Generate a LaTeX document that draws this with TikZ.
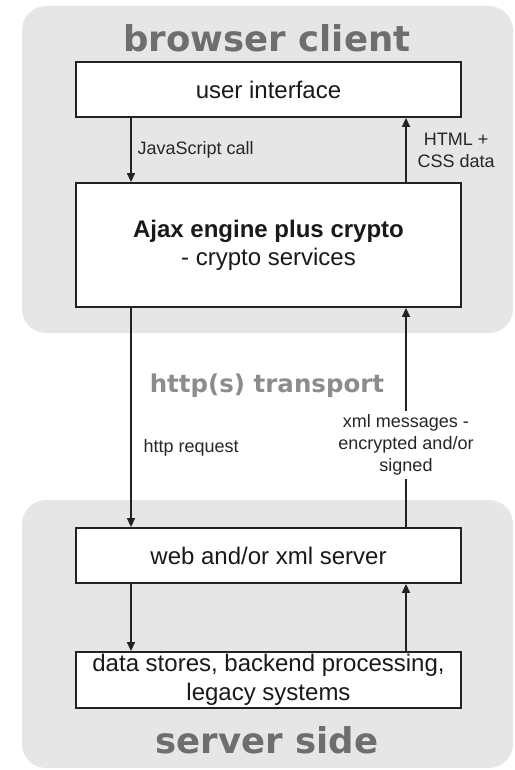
\documentclass[tikz,border=0pt]{standalone}
\usepackage{fontspec}
\setmainfont{Liberation Sans}
\newfontfamily\titlefont{DejaVu Sans}
\usetikzlibrary{arrows.meta}
\definecolor{panelgray}{HTML}{E6E6E6}
\definecolor{titlegray}{HTML}{6E6E6E}
\definecolor{transgray}{HTML}{8C8C8C}
\definecolor{boxline}{HTML}{222222}
\begin{document}
\begin{tikzpicture}[x=1pt,y=-1pt,
  panel/.style={fill=panelgray, rounded corners=24pt},
  titletext/.style={text=titlegray, font=\titlefont\bfseries\fontsize{35.5}{40}\selectfont, inner sep=0pt},
  transtext/.style={text=transgray, font=\titlefont\bfseries\fontsize{24.5}{28}\selectfont, inner sep=0pt},
  box/.style={draw=boxline, line width=1.8pt, fill=white, minimum width=385pt, inner sep=0pt,
    text=black!90, align=center, font=\fontsize{24}{28}\selectfont},
  arr/.style={draw=boxline, line width=1.4pt, -{Triangle[length=9pt,width=8pt]}},
  lbl/.style={inner sep=0pt, text=black!85, align=center, font=\fontsize{18}{22}\selectfont}]
\useasboundingbox (0,0) rectangle (514,770);
% panels
\fill[panel] (22,6) rectangle (513,333);
\fill[panel] (22,500) rectangle (513,768);
% titles
\node[titletext] (tclient) at (267,38) {browser client};
\node[titletext] (tserver) at (267,740) {server side};
\node[transtext, anchor=base] (ttrans) at (267,392) {http(s) transport};
% boxes
\node[box, minimum height=55pt] (ui) at (268.5,89.5) {user interface};
\node[box, minimum height=124pt] (ajax) at (268.5,245) {\textbf{Ajax engine plus crypto}\\- crypto services};
\node[box, minimum height=55pt] (web) at (268.5,555.5) {web and/or xml server};
\node[box, minimum height=56pt, font=\fontsize{24}{29}\selectfont] (data) at (268.5,680) {data stores, backend processing,\\legacy systems};
% column coordinates
\coordinate (L) at (131,0);
\coordinate (R) at (406,0);
% arrows
\draw[arr] (ui.south -| L) -- node[lbl, right, xshift=6pt] {JavaScript call} (ajax.north -| L);
\draw[arr] (ajax.north -| R) -- node[lbl, right, xshift=11pt] {HTML +\\CSS data} (ui.south -| R);
\draw[arr] (ajax.south -| L) -- node[lbl, pos=0.64, right, xshift=12pt] {http request} (web.north -| L);
\draw[arr] (web.north -| R) -- node[lbl, pos=0.375, fill=white, inner sep=4pt] {xml messages -\\encrypted and/or\\signed} (ajax.south -| R);
\draw[arr] (web.south -| L) -- (data.north -| L);
\draw[arr] (data.north -| R) -- (web.south -| R);
\end{tikzpicture}
\end{document}
